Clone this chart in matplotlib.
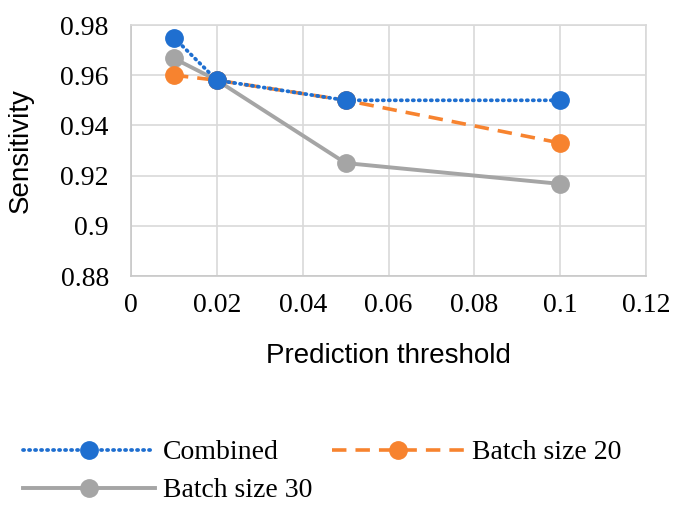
import matplotlib
matplotlib.use("Agg")
import matplotlib.pyplot as plt

# Data
thresholds = [0.01, 0.02, 0.05, 0.1]
combined = [0.975, 0.958, 0.950, 0.950]
batch20 = [0.960, 0.958, 0.950, 0.933]
batch30 = [0.9667, 0.958, 0.925, 0.9167]
series_names = ["Combined", "Batch size 20", "Batch size 30"]

xticks = [0, 0.02, 0.04, 0.06, 0.08, 0.1, 0.12]
xtick_labels = ["0", "0.02", "0.04", "0.06", "0.08", "0.1", "0.12"]
yticks = [0.88, 0.90, 0.92, 0.94, 0.96, 0.98]
ytick_labels = ["0.88", "0.9", "0.92", "0.94", "0.96", "0.98"]

BLUE = "#1F6FD0"
ORANGE = "#F7832F"
GRAY = "#A5A5A5"
GRID = "#D9D9D9"

serif = ["Liberation Serif", "DejaVu Serif"]
sans = ["Liberation Sans", "DejaVu Sans"]

fig = plt.figure(figsize=(6.81, 5.07), dpi=100)
ax = fig.add_axes([131 / 681, 1 - 276 / 507, 515 / 681, 251 / 507])

ms = 12.5
l1, = ax.plot(thresholds, combined, color=BLUE, lw=2.7, linestyle=(0, (0.3, 1.3)),
              dash_capstyle="round", marker="o", markersize=ms, zorder=5,
              label=series_names[0])
l2, = ax.plot(thresholds, batch20, color=ORANGE, lw=2.6, linestyle=(0, (4, 2.5)),
              marker="o", markersize=ms, zorder=4, label=series_names[1])
l3, = ax.plot(thresholds, batch30, color=GRAY, lw=2.8, linestyle="-",
              marker="o", markersize=ms, zorder=3, label=series_names[2])

ax.set_xlim(0, 0.12)
ax.set_ylim(0.88, 0.98)
ax.set_xticks(xticks)
ax.set_xticklabels(xtick_labels, fontfamily=serif, fontsize=20)
ax.set_yticks(yticks)
ax.set_yticklabels(ytick_labels, fontfamily=serif, fontsize=20)
ax.tick_params(axis="both", length=0, colors="black")
ax.tick_params(axis="x", pad=12)
ax.tick_params(axis="y", pad=16)

ax.grid(True, color=GRID, lw=1.2, zorder=0)
ax.set_axisbelow(True)
for s in ax.spines.values():
    s.set_color(GRID)
    s.set_linewidth(1.2)
ax.spines["left"].set_color("#C8C8C8")
ax.spines["bottom"].set_color("#C8C8C8")

ax.set_ylabel("Sensitivity", fontfamily=sans, fontsize=20)
ax.set_xlabel("Prediction threshold", fontfamily=sans, fontsize=20)
ax.yaxis.set_label_coords(-0.2135, 0.5)
ax.xaxis.set_label_coords(0.5, -0.319)
ax.xaxis.label.set_va("center")
ax.yaxis.label.set_va("center")

# ncol=2 fills column-wise: Combined / Batch size 30 in column 1, Batch size 20 in column 2
leg = fig.legend([l1, l3, l2], [series_names[0], series_names[2], series_names[1]],
                 ncol=2, loc="upper left", bbox_to_anchor=(23 / 681, 1 - 440 / 507),
                 frameon=False, borderpad=0, borderaxespad=0,
                 handlelength=4.75, handletextpad=0.3, columnspacing=0.7,
                 labelspacing=0.45,
                 prop={"family": serif, "size": 20})

fig.savefig("out.png", dpi=100)
